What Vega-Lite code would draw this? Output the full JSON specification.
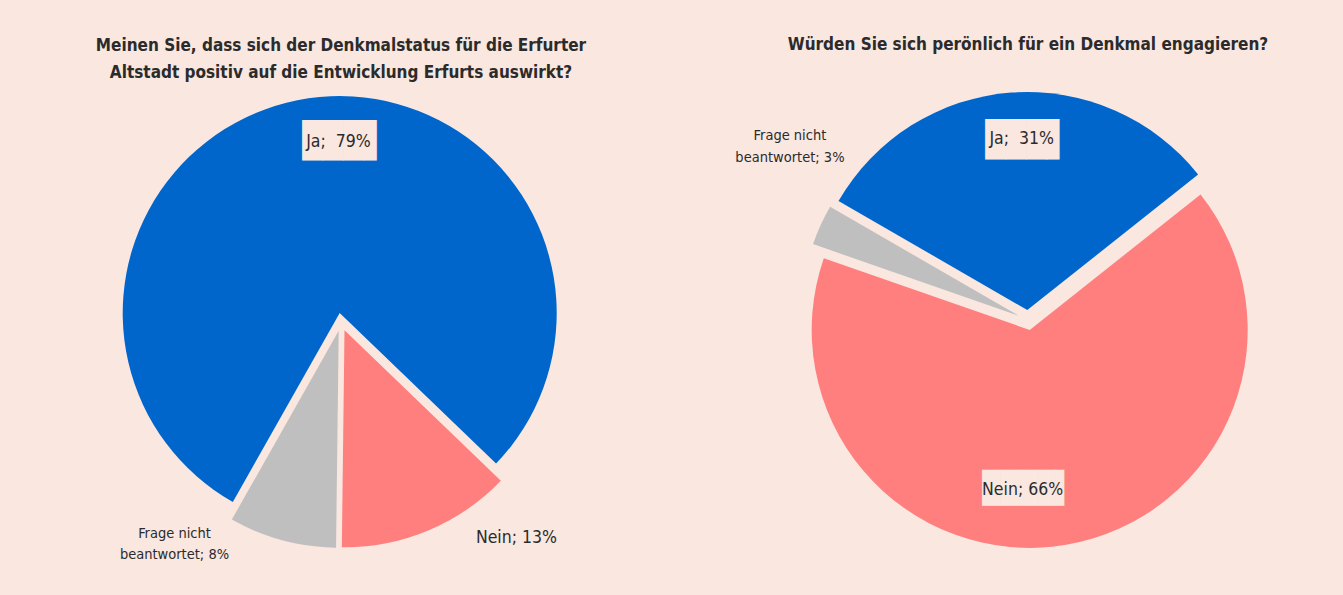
{
  "$schema": "https://vega.github.io/schema/vega-lite/v6.json",
  "background": "#F9E7E0",
  "padding": {"left": 5, "top": 36, "right": 0, "bottom": 33},
  "spacing": 36,
  "config": {
    "view": {"stroke": null},
    "title": {"font": "DejaVu Sans Condensed, DejaVu Sans", "fontSize": 17, "fontWeight": "bold", "color": "#2b2b2b", "anchor": "middle", "lineHeight": 26.3},
    "text": {"font": "DejaVu Sans Condensed, DejaVu Sans", "color": "#2b2b2b", "baseline": "middle", "align": "center"}
  },
  "hconcat": [
    {
      "title": {"text": ["Meinen Sie, dass sich der Denkmalstatus für die Erfurter", "Altstadt positiv auf die Entwicklung Erfurts auswirkt?"], "offset": 5.4},
      "width": 672,
      "height": 470,
      "data": {"values": [
        {"cat": "Ja", "pct": 79, "order": 1, "label": "Ja;\u00a0 79%"},
        {"cat": "Nein", "pct": 13, "order": 2, "label": "Nein; 13%"},
        {"cat": "Frage nicht beantwortet", "pct": 8, "order": 3, "label": "Frage nicht\nbeantwortet; 8%"}
      ]},
      "encoding": {
        "theta": {"field": "pct", "type": "quantitative", "stack": true, "scale": {"range": [3.6565, 9.9397]}},
        "order": {"field": "order", "type": "quantitative"}
      },
      "layer": [
        {"mark": {"type": "arc", "radius": 217, "xOffset": -1.3, "yOffset": -8.9},
         "encoding": {"color": {"field": "cat", "type": "nominal", "scale": {"domain": ["Ja", "Nein", "Frage nicht beantwortet"], "range": ["#0066CC", "#FF7F7F", "#BFBFBF"]}, "legend": null},
                      "opacity": {"condition": {"test": "datum.cat === 'Ja'", "value": 1}, "value": 0}}},
        {"mark": {"type": "arc", "radius": 217, "xOffset": 3.5, "yOffset": 8.3},
         "encoding": {"color": {"field": "cat", "type": "nominal", "legend": null},
                      "opacity": {"condition": {"test": "datum.cat === 'Nein'", "value": 1}, "value": 0}}},
        {"mark": {"type": "arc", "radius": 217, "xOffset": -2.3, "yOffset": 8.7},
         "encoding": {"color": {"field": "cat", "type": "nominal", "legend": null},
                      "opacity": {"condition": {"test": "datum.cat === 'Frage nicht beantwortet'", "value": 1}, "value": 0}}},
        {"mark": {"type": "text", "radius": 181, "dx": 28.4, "dy": -0.8, "font": "DejaVu Sans Mono", "fontSize": 34, "color": "#F9E7E0"},
         "encoding": {"text": {"condition": {"test": "datum.cat === 'Ja'", "value": "███▋"}, "value": ""}}},
        {"mark": {"type": "text", "radius": 181, "dx": 23.6, "dy": -1, "fontSize": 17.5},
         "encoding": {"text": {"condition": {"test": "datum.cat === 'Ja'", "field": "label", "type": "nominal"}, "value": ""}}},
        {"mark": {"type": "text", "radius": 200, "dx": 98.3, "dy": 31.5, "fontSize": 17.5},
         "encoding": {"text": {"condition": {"test": "datum.cat === 'Nein'", "field": "label", "type": "nominal"}, "value": ""}}},
        {"mark": {"type": "text", "radius": 200, "dx": -114.4, "dy": 18.6, "fontSize": 14.5, "lineHeight": 21.6, "lineBreak": "\n"},
         "encoding": {"text": {"condition": {"test": "datum.order === 3", "field": "label", "type": "nominal"}, "value": ""}}}
      ]
    },
    {
      "title": {"text": "Würden Sie sich perönlich für ein Denkmal engagieren?", "offset": 32.7},
      "width": 630,
      "height": 470,
      "data": {"values": [
        {"cat": "Ja", "pct": 31, "order": 1, "label": "Ja;\u00a0 31%"},
        {"cat": "Nein", "pct": 66, "order": 2, "label": "Nein; 66%"},
        {"cat": "Frage nicht beantwortet", "pct": 3, "order": 3, "label": "Frage nicht\nbeantwortet; 3%"}
      ]},
      "encoding": {
        "theta": {"field": "pct", "type": "quantitative", "stack": true, "scale": {"range": [5.2360, 11.5192]}},
        "order": {"field": "order", "type": "quantitative"}
      },
      "layer": [
        {"mark": {"type": "arc", "radius": 218, "xOffset": -0.7, "yOffset": -12},
         "encoding": {"color": {"field": "cat", "type": "nominal", "scale": {"domain": ["Ja", "Nein", "Frage nicht beantwortet"], "range": ["#0066CC", "#FF7F7F", "#BFBFBF"]}, "legend": null},
                      "opacity": {"condition": {"test": "datum.cat === 'Ja'", "value": 1}, "value": 0}}},
        {"mark": {"type": "arc", "radius": 218, "xOffset": 1.7, "yOffset": 7.9},
         "encoding": {"color": {"field": "cat", "type": "nominal", "legend": null},
                      "opacity": {"condition": {"test": "datum.cat === 'Nein'", "value": 1}, "value": 0}}},
        {"mark": {"type": "arc", "radius": 218, "xOffset": -9.1, "yOffset": -6.2},
         "encoding": {"color": {"field": "cat", "type": "nominal", "legend": null},
                      "opacity": {"condition": {"test": "datum.cat === 'Frage nicht beantwortet'", "value": 1}, "value": 0}}},
        {"mark": {"type": "text", "radius": 181, "dx": 11.4, "dy": -0.7, "font": "DejaVu Sans Mono", "fontSize": 34, "color": "#F9E7E0"},
         "encoding": {"text": {"condition": {"test": "datum.cat === 'Ja'", "value": "███▋"}, "value": ""}}},
        {"mark": {"type": "text", "radius": 181, "dx": 7, "dy": -2.5, "fontSize": 17.5},
         "encoding": {"text": {"condition": {"test": "datum.cat === 'Ja'", "field": "label", "type": "nominal"}, "value": ""}}},
        {"mark": {"type": "text", "radius": 170, "dx": -28.5, "dy": -0.7, "font": "DejaVu Sans Mono", "fontSize": 30.3, "color": "#F9E7E0"},
         "encoding": {"text": {"condition": {"test": "datum.cat === 'Nein'", "value": "████▌"}, "value": ""}}},
        {"mark": {"type": "text", "radius": 170, "dx": -33.7, "dy": 0.4, "fontSize": 17.5},
         "encoding": {"text": {"condition": {"test": "datum.cat === 'Nein'", "field": "label", "type": "nominal"}, "value": ""}}},
        {"mark": {"type": "text", "radius": 50, "dx": -192.6, "dy": -165, "fontSize": 14.5, "lineHeight": 21.6, "lineBreak": "\n"},
         "encoding": {"text": {"condition": {"test": "datum.order === 3", "field": "label", "type": "nominal"}, "value": ""}}}
      ]
    }
  ]
}
